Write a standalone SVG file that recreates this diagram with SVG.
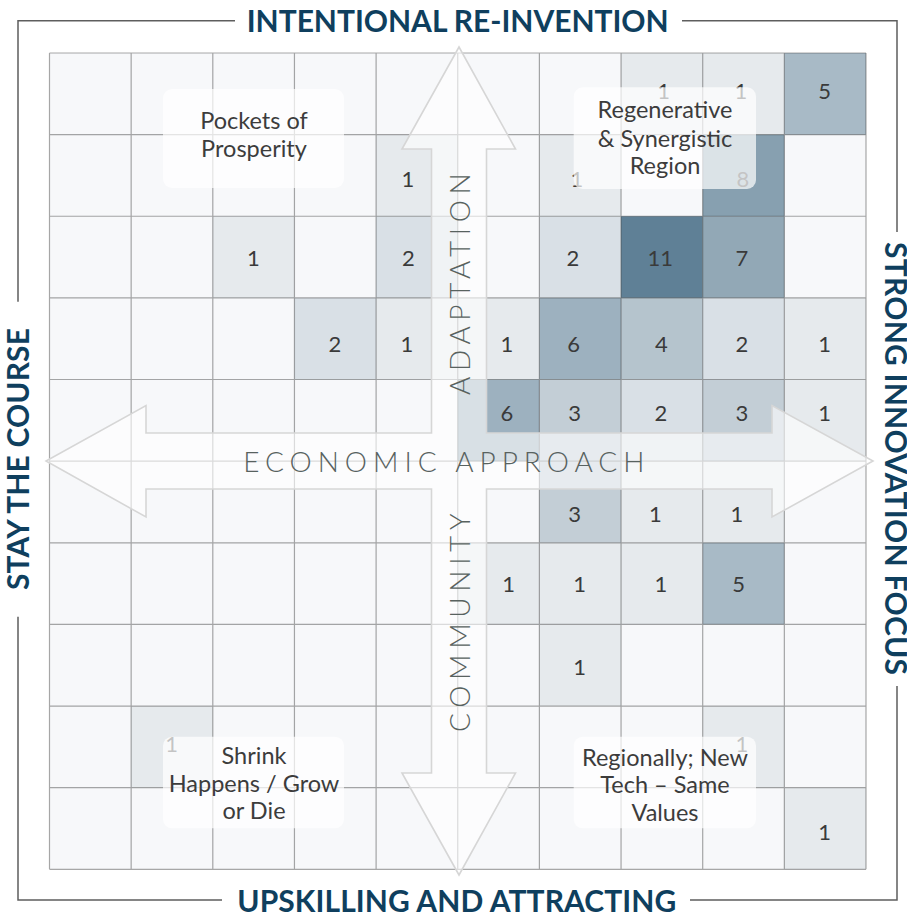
<svg xmlns="http://www.w3.org/2000/svg" width="907" height="916" viewBox="0 0 907 916">
<style>
.c1{fill:#e6eaed}.c2{fill:#d9e0e6}.c3{fill:#c3ced6}.c4{fill:#b5c4cd}.c5{fill:#a8bac6}.c6{fill:#9db1bf}.c7{fill:#92a8b6}.c8{fill:#87a0b0}.c11{fill:#5f8096}
.num{font-family:Lato,"Liberation Sans",sans-serif;font-size:22px;fill:#3a3a3a;text-anchor:middle}
.lbl{font-family:Lato,"Liberation Sans",sans-serif;font-size:23.5px;fill:#3c3c3c;text-anchor:middle}
.box{fill:#ffffff;fill-opacity:0.7}
.axis{font-family:Lato,"Liberation Sans",sans-serif;font-weight:300;font-size:28px;fill:#58625f}
.title{font-family:Lato,"Liberation Sans",sans-serif;font-weight:700;font-size:30px;fill:#0f3f5e}
.frame{fill:none;stroke:#5e5e5e;stroke-width:1.5}
</style>
<rect x="0" y="0" width="907" height="916" fill="#ffffff"/>
<g id="grid">
<rect x="49.5" y="53" width="816.5" height="816.3" fill="#f7f8fa"/>
<g id="cells">
<rect class="c1" x="621.05" y="53" width="81.65" height="81.63"/>
<rect class="c1" x="702.7" y="53" width="81.65" height="81.63"/>
<rect class="c5" x="784.35" y="53" width="81.65" height="81.63"/>
<rect class="c1" x="376.1" y="134.63" width="81.65" height="81.63"/>
<rect class="c1" x="539.4" y="134.63" width="81.65" height="81.63"/>
<rect class="c8" x="702.7" y="134.63" width="81.65" height="81.63"/>
<rect class="c1" x="212.8" y="216.26" width="81.65" height="81.63"/>
<rect class="c2" x="376.1" y="216.26" width="81.65" height="81.63"/>
<rect class="c2" x="539.4" y="216.26" width="81.65" height="81.63"/>
<rect class="c11" x="621.05" y="216.26" width="81.65" height="81.63"/>
<rect class="c7" x="702.7" y="216.26" width="81.65" height="81.63"/>
<rect class="c2" x="294.45" y="297.89" width="81.65" height="81.63"/>
<rect class="c1" x="376.1" y="297.89" width="81.65" height="81.63"/>
<rect class="c1" x="457.75" y="297.89" width="81.65" height="81.63"/>
<rect class="c6" x="539.4" y="297.89" width="81.65" height="81.63"/>
<rect class="c4" x="621.05" y="297.89" width="81.65" height="81.63"/>
<rect class="c2" x="702.7" y="297.89" width="81.65" height="81.63"/>
<rect class="c1" x="784.35" y="297.89" width="81.65" height="81.63"/>
<rect class="c6" x="457.75" y="379.52" width="81.65" height="81.63"/>
<rect class="c3" x="539.4" y="379.52" width="81.65" height="81.63"/>
<rect class="c2" x="621.05" y="379.52" width="81.65" height="81.63"/>
<rect class="c3" x="702.7" y="379.52" width="81.65" height="81.63"/>
<rect class="c1" x="784.35" y="379.52" width="81.65" height="81.63"/>
<rect class="c3" x="539.4" y="461.15" width="81.65" height="81.63"/>
<rect class="c1" x="621.05" y="461.15" width="81.65" height="81.63"/>
<rect class="c1" x="702.7" y="461.15" width="81.65" height="81.63"/>
<rect class="c1" x="457.75" y="542.78" width="81.65" height="81.63"/>
<rect class="c1" x="539.4" y="542.78" width="81.65" height="81.63"/>
<rect class="c1" x="621.05" y="542.78" width="81.65" height="81.63"/>
<rect class="c5" x="702.7" y="542.78" width="81.65" height="81.63"/>
<rect class="c1" x="539.4" y="624.41" width="81.65" height="81.63"/>
<rect class="c1" x="131.15" y="706.04" width="81.65" height="81.63"/>
<rect class="c1" x="702.7" y="706.04" width="81.65" height="81.63"/>
<rect class="c1" x="784.35" y="787.67" width="81.65" height="81.63"/>
</g>
<path id="gridlines" fill="none" stroke="#303030" stroke-opacity="0.42" stroke-width="1.2" d="M49.5 53V869.3M131.15 53V869.3M212.8 53V869.3M294.45 53V869.3M376.1 53V869.3M457.75 53V869.3M539.4 53V869.3M621.05 53V869.3M702.7 53V869.3M784.35 53V869.3M866 53V869.3M49.5 53H866M49.5 134.63H866M49.5 216.26H866M49.5 297.89H866M49.5 379.52H866M49.5 461.15H866M49.5 542.78H866M49.5 624.41H866M49.5 706.04H866M49.5 787.67H866M49.5 869.3H866"/>
<g id="numbers" class="num">
<text x="663.7" y="99">1</text><text x="741" y="99">1</text><text x="824.7" y="99">5</text>
<text x="408" y="187">1</text><text x="577" y="187">1</text><text x="743" y="187">8</text>
<text x="253.3" y="266">1</text><text x="408.3" y="266">2</text><text x="573" y="266">2</text><text x="660.3" y="266">11</text><text x="742" y="266">7</text>
<text x="335" y="352">2</text><text x="407" y="352">1</text><text x="507" y="352">1</text><text x="573.7" y="352">6</text><text x="661.3" y="352">4</text><text x="742" y="352">2</text><text x="824.7" y="352">1</text>
<text x="507" y="421">6</text><text x="574.7" y="421">3</text><text x="661" y="421">2</text><text x="742" y="421">3</text><text x="824.7" y="421">1</text>
<text x="574.7" y="522">3</text><text x="655.3" y="522">1</text><text x="737" y="522">1</text>
<text x="508.7" y="592">1</text><text x="579.7" y="592">1</text><text x="661" y="592">1</text><text x="738.7" y="592">5</text>
<text x="579.7" y="675">1</text>
<text x="171.7" y="752">1</text><text x="742" y="752">1</text>
<text x="824.7" y="840">1</text>
</g>
</g>
<g id="connectors">
<path id="cross-arrows" fill="#ffffff" fill-opacity="0.6" stroke="#d6d6d6" stroke-width="1.6" stroke-linejoin="miter" d="M459 47L515.5 149H486.5V433H772V405.5L873 461L772 517V489H486.5V773H515.5L459 875L402 773H431.5V489H146V517L46 461L146 405.5V433H431.5V149H402Z"/>
</g>
<g id="axis-labels" class="axis">
<text id="economic-approach" x="243.3" y="472.3" textLength="401">ECONOMIC APPROACH</text>
<text id="adaptation" transform="translate(470 395) rotate(-90)" x="0" y="0" textLength="221.7">ADAPTATION</text>
<text id="community" transform="translate(470 732) rotate(-90)" x="0" y="0" textLength="218.7">COMMUNITY</text>
</g>
<g id="pockets">
<rect class="box" x="163" y="89" width="181" height="99" rx="9"/>
<text class="lbl" x="254" y="129">Pockets of</text>
<text class="lbl" x="254" y="157">Prosperity</text>
</g>
<g id="regenerative">
<rect class="box" x="573.7" y="87.3" width="182.3" height="101.7" rx="9"/>
<text class="lbl" x="665" y="118.3">Regenerative</text>
<text class="lbl" x="665" y="146.7">&amp; Synergistic</text>
<text class="lbl" x="665" y="174">Region</text>
</g>
<g id="shrink">
<rect class="box" x="163" y="736.7" width="181" height="91.6" rx="9"/>
<text class="lbl" x="254" y="764">Shrink</text>
<text class="lbl" x="254" y="791.7">Happens / Grow</text>
<text class="lbl" x="254" y="819.3">or Die</text>
</g>
<g id="regionally">
<rect class="box" x="573.7" y="736.7" width="182.3" height="91.6" rx="9"/>
<text class="lbl" x="665" y="766">Regionally; New</text>
<text class="lbl" x="665" y="793.3">Tech – Same</text>
<text class="lbl" x="665" y="820.7">Values</text>
</g>
<g id="frame">
<path class="frame" d="M235 20.7H18V301.7M18 616.7V900H222M690 900H897V686M897 232V20.7H682"/>
<text id="top-title" class="title" x="246.7" y="31.7" textLength="422">INTENTIONAL RE-INVENTION</text>
<text id="bottom-title" class="title" x="237.3" y="911.7" textLength="439">UPSKILLING AND ATTRACTING</text>
<text id="left-title" class="title" transform="translate(29.3 590) rotate(-90)" x="0" y="0" textLength="262">STAY THE COURSE</text>
<text id="right-title" class="title" transform="translate(885 242) rotate(90)" x="0" y="0" textLength="433">STRONG INNOVATION FOCUS</text>
</g>
</svg>
